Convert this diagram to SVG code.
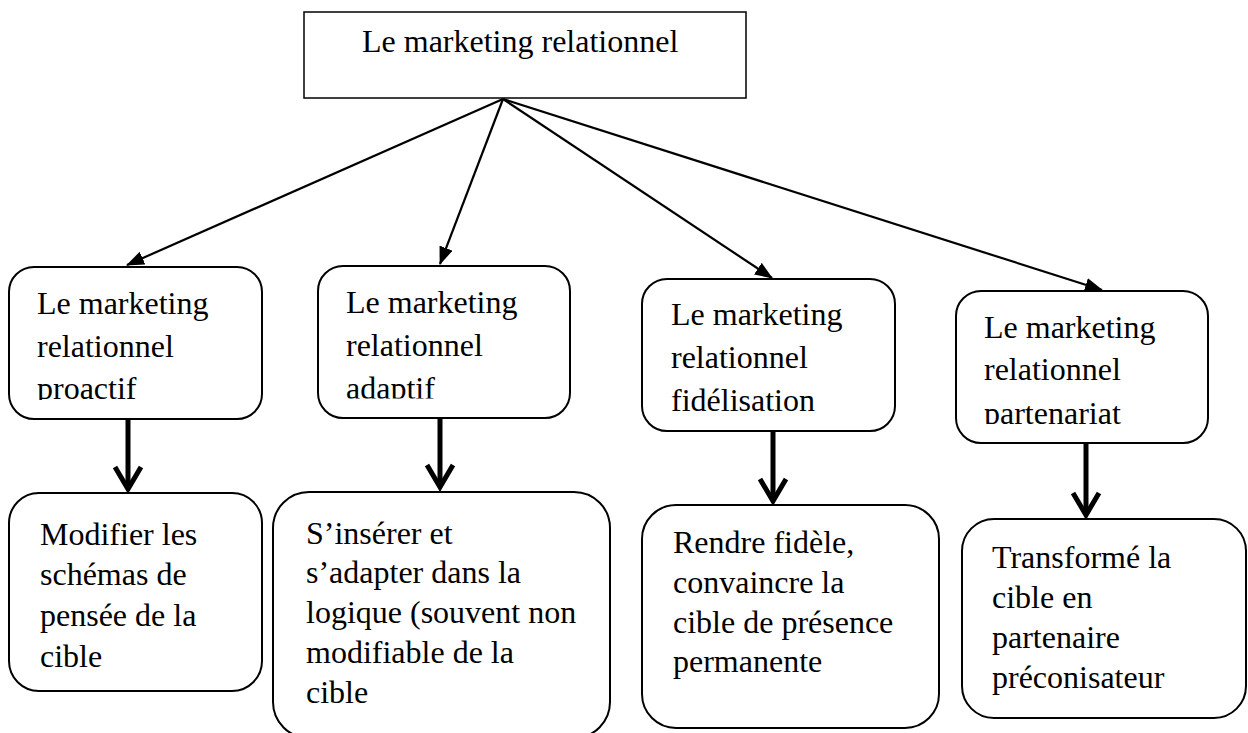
<svg xmlns="http://www.w3.org/2000/svg" width="1248" height="733" viewBox="0 0 1248 733">
  <style>
    .box { fill: #ffffff; stroke: #000000; stroke-width: 2; }
    .top { fill: #ffffff; stroke: #000000; stroke-width: 1.5; }
    .lbl { font-family: "Liberation Serif", "Times New Roman", serif; font-size: 32px; fill: #000000; }
    .thin { stroke: #000000; stroke-width: 2.2; fill: none; marker-end: url(#tri); }
    .thick { stroke: #000000; stroke-width: 5; fill: none; }
    .chev { stroke: #000000; stroke-width: 5; fill: none; stroke-linejoin: miter; stroke-linecap: butt; }
  </style>
  <defs>
    <marker id="tri" markerUnits="userSpaceOnUse" markerWidth="20" markerHeight="16" refX="17" refY="7" orient="auto">
      <path d="M0,0 L18,7 L0,14 Z" fill="#000000"/>
    </marker>
    <clipPath id="c1"><rect x="0" y="260" width="270" height="140"/></clipPath>
    <clipPath id="c2"><rect x="300" y="260" width="280" height="138.5"/></clipPath>
    <clipPath id="c4"><rect x="950" y="280" width="270" height="144"/></clipPath>
    <clipPath id="c8"><rect x="950" y="510" width="298" height="186.5"/></clipPath>
  </defs>
  <rect width="1248" height="733" fill="#ffffff"/>

  <!-- connectors -->
  <g id="connectors">
    <line class="thin" x1="503" y1="99" x2="127" y2="265"/>
    <line class="thin" x1="503" y1="99" x2="440" y2="264"/>
    <line class="thin" x1="503" y1="99" x2="772" y2="278"/>
    <line class="thin" x1="503" y1="99" x2="1102" y2="290"/>

    <line class="thick" x1="128" y1="419" x2="128" y2="488"/>
    <polyline class="chev" points="115,467 128,489 141,467"/>
    <line class="thick" x1="440" y1="418" x2="440" y2="486"/>
    <polyline class="chev" points="427,465 440,487 453,465"/>
    <line class="thick" x1="773" y1="431" x2="773" y2="500"/>
    <polyline class="chev" points="760,479 773,501 786,479"/>
    <line class="thick" x1="1086" y1="443" x2="1086" y2="514"/>
    <polyline class="chev" points="1073,493 1086,515 1099,493"/>
  </g>

  <!-- root -->
  <g id="root">
    <rect class="top" x="304" y="12" width="442" height="86"/>
    <text class="lbl" x="362" y="52">Le marketing relationnel</text>
  </g>

  <!-- second level -->
  <g id="proactif">
    <rect class="box" x="9" y="267" width="253" height="152" rx="25"/>
    <g clip-path="url(#c1)">
      <text class="lbl" x="37" y="314">Le marketing</text>
      <text class="lbl" x="37" y="357">relationnel</text>
      <text class="lbl" x="37" y="399">proactif</text>
    </g>
  </g>
  <g id="adaptif">
    <rect class="box" x="318" y="266" width="252" height="152" rx="25"/>
    <g clip-path="url(#c2)">
      <text class="lbl" x="346" y="313">Le marketing</text>
      <text class="lbl" x="346" y="356">relationnel</text>
      <text class="lbl" x="346" y="399">adaptif</text>
    </g>
  </g>
  <g id="fidelisation">
    <rect class="box" x="642" y="279" width="253" height="152" rx="25"/>
    <text class="lbl" x="671" y="325">Le marketing</text>
    <text class="lbl" x="671" y="368">relationnel</text>
    <text class="lbl" x="671" y="411">fidélisation</text>
  </g>
  <g id="partenariat">
    <rect class="box" x="956" y="291" width="252" height="152" rx="25"/>
    <g clip-path="url(#c4)">
      <text class="lbl" x="984" y="338">Le marketing</text>
      <text class="lbl" x="984" y="380">relationnel</text>
      <text class="lbl" x="984" y="424">partenariat</text>
    </g>
  </g>

  <!-- third level -->
  <g id="objectif-proactif">
    <rect class="box" x="9" y="493" width="253" height="198" rx="30"/>
    <text class="lbl" x="40" y="545">Modifier les</text>
    <text class="lbl" x="40" y="585">schémas de</text>
    <text class="lbl" x="40" y="626">pensée de la</text>
    <text class="lbl" x="40" y="667">cible</text>
  </g>
  <g id="objectif-adaptif">
    <rect class="box" x="273" y="492" width="337" height="246" rx="36"/>
    <text class="lbl" x="306" y="544">S’insérer et</text>
    <text class="lbl" x="306" y="583">s’adapter dans la</text>
    <text class="lbl" x="306" y="623">logique (souvent non</text>
    <text class="lbl" x="306" y="663">modifiable de la</text>
    <text class="lbl" x="306" y="703">cible</text>
  </g>
  <g id="objectif-fidelisation">
    <rect class="box" x="642" y="505" width="297" height="223" rx="34"/>
    <text class="lbl" x="673" y="553">Rendre fidèle,</text>
    <text class="lbl" x="673" y="593">convaincre la</text>
    <text class="lbl" x="673" y="633">cible de présence</text>
    <text class="lbl" x="673" y="672">permanente</text>
  </g>
  <g id="objectif-partenariat">
    <rect class="box" x="962" y="519" width="284" height="199" rx="32"/>
    <g clip-path="url(#c8)">
      <text class="lbl" x="992" y="568">Transformé la</text>
      <text class="lbl" x="992" y="608">cible en</text>
      <text class="lbl" x="992" y="648">partenaire</text>
      <text class="lbl" x="992" y="688">préconisateur</text>
    </g>
  </g>
</svg>
